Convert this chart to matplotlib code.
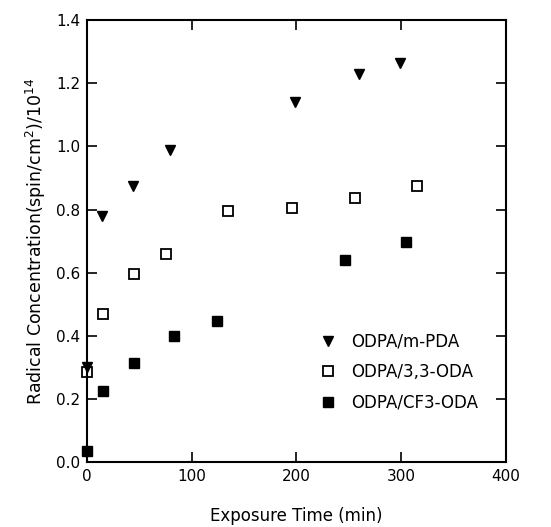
import matplotlib
matplotlib.use("Agg")
import matplotlib.pyplot as plt

# Data
mpda_x = [0, 14, 44, 79, 199, 260, 299]
mpda_y = [0.30, 0.78, 0.875, 0.99, 1.14, 1.23, 1.265]

oda33_x = [0, 15, 45, 75, 135, 196, 256, 315]
oda33_y = [0.285, 0.47, 0.595, 0.66, 0.795, 0.805, 0.835, 0.875]

cf3_x = [0, 15, 45, 83, 124, 246, 305]
cf3_y = [0.035, 0.225, 0.315, 0.40, 0.447, 0.64, 0.697]

labels = ["ODPA/m-PDA", "ODPA/3,3-ODA", "ODPA/CF3-ODA"]

plt.rcParams['font.family'] = ['DejaVu Sans']
fig = plt.figure(figsize=(5.51, 5.27), dpi=100)
ax = fig.add_axes([0.158, 0.123, 0.76, 0.839])

ax.plot(mpda_x, mpda_y, linestyle='none', marker='v', color='black', markersize=7,
        clip_on=False, zorder=3, label=labels[0])
ax.plot(oda33_x, oda33_y, linestyle='none', marker='s', markerfacecolor='white', markeredgecolor='black',
        markeredgewidth=1.3, markersize=7, clip_on=False, zorder=2, label=labels[1])
ax.plot(cf3_x, cf3_y, linestyle='none', marker='s', color='black', markersize=7,
        clip_on=False, zorder=3, label=labels[2])

ax.set_xlim(0, 400)
ax.set_ylim(0, 1.4)
ax.set_xticks([0, 100, 200, 300, 400])
ax.set_yticks([0.0, 0.2, 0.4, 0.6, 0.8, 1.0, 1.2, 1.4])
ax.set_yticklabels(["0.0", "0.2", "0.4", "0.6", "0.8", "1.0", "1.2", "1.4"])
ax.tick_params(direction='in', top=True, right=True, length=7, width=1.2, labelsize=11, pad=5)
for s in ax.spines.values():
    s.set_linewidth(1.5)

ax.set_xlabel("Exposure Time (min)", fontsize=12, labelpad=16.5)
ax.set_ylabel("Radical Concentration(spin/cm$^2$)/10$^{14}$", fontsize=12.5, labelpad=6)

leg = ax.legend(loc='upper left', bbox_to_anchor=(0.54, 0.308), frameon=False, fontsize=12,
                handletextpad=0.85, labelspacing=0.75, handlelength=1.0, borderaxespad=0)

fig.savefig("out.png", dpi=100)
